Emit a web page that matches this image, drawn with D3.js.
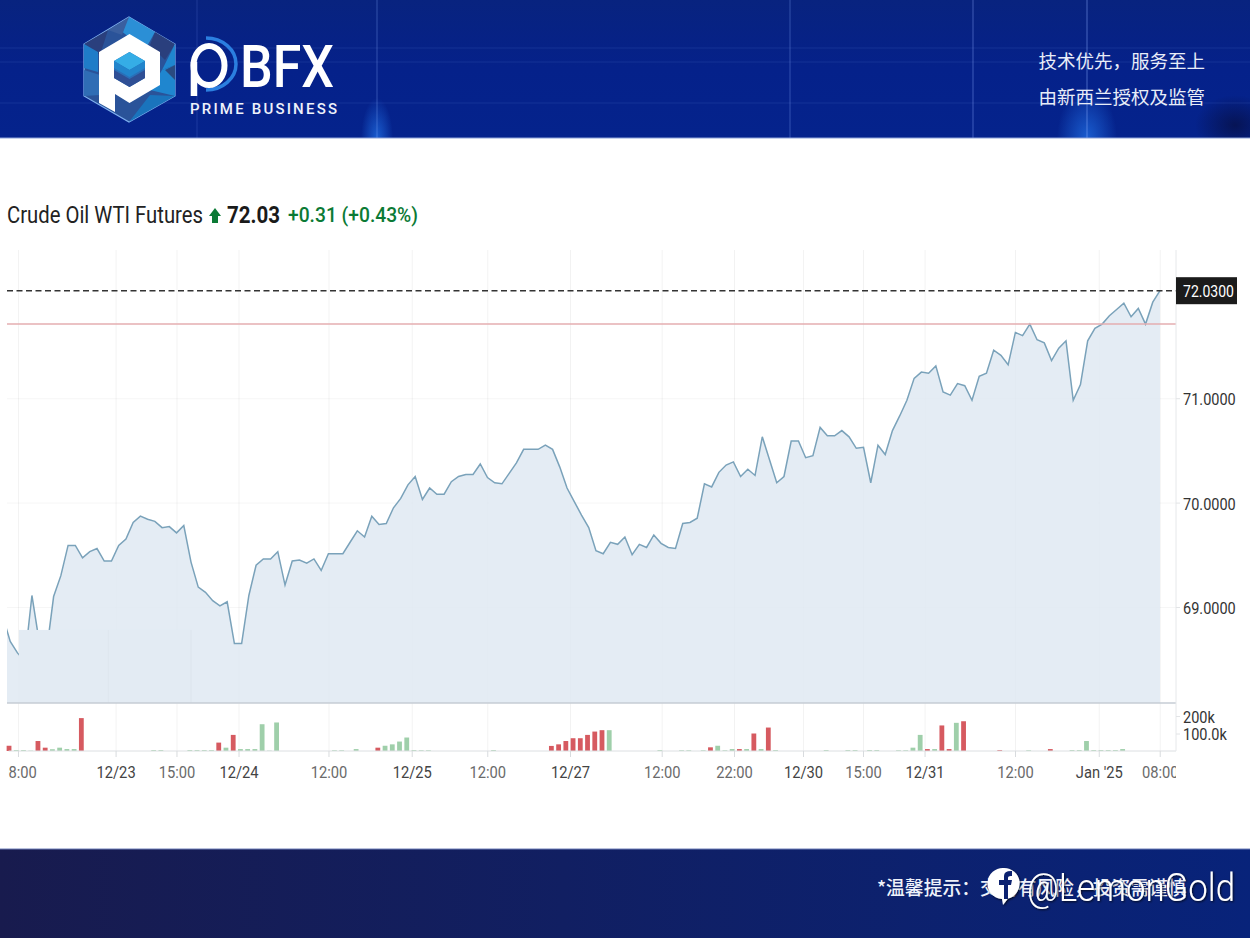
<!DOCTYPE html>
<html>
<head>
<meta charset="utf-8">
<script src="https://cdn.jsdelivr.net/npm/d3@7"></script>
<style>
  body { margin: 0; background: #fff; }
  svg { display: block; }
  text { font-family: Roboto, sans-serif; }
  .cjk { font-family: "Noto Sans CJK SC", sans-serif; }
</style>
</head>
<body>
<div id="my_dataviz"></div>
<script>
// Chart data
const prices = [
  68.90, 68.67, 68.56, 68.48, 69.11, 68.67, 68.56, 69.10, 69.30, 69.59,
  69.59, 69.47, 69.53, 69.56, 69.44, 69.44, 69.59, 69.65, 69.81, 69.87,
  69.84, 69.82, 69.76, 69.77, 69.71, 69.78, 69.43, 69.19, 69.14, 69.06,
  69.01, 69.05, 68.65, 68.65, 69.11, 69.40, 69.46, 69.46, 69.53, 69.21,
  69.44, 69.45, 69.42, 69.46, 69.35, 69.51, 69.51, 69.51, 69.62, 69.73,
  69.67, 69.87, 69.79, 69.80, 69.95, 70.04, 70.17, 70.25, 70.03, 70.14,
  70.08, 70.08, 70.20, 70.25, 70.27, 70.27, 70.37, 70.24, 70.19, 70.18,
  70.28, 70.38, 70.51, 70.51, 70.51, 70.55, 70.51, 70.34, 70.14, 70.01,
  69.88, 69.76, 69.54, 69.51, 69.62, 69.60, 69.67, 69.50, 69.60, 69.57,
  69.69, 69.61, 69.57, 69.56, 69.80, 69.81, 69.85, 70.18, 70.15, 70.29,
  70.36, 70.39, 70.25, 70.32, 70.26, 70.63, 70.41, 70.19, 70.25, 70.59,
  70.59, 70.43, 70.45, 70.72, 70.64, 70.64, 70.69, 70.63, 70.52, 70.53,
  70.19, 70.55, 70.46, 70.69, 70.83, 70.98, 71.19, 71.25, 71.24, 71.31,
  71.06, 71.03, 71.14, 71.12, 70.98, 71.21, 71.24, 71.46, 71.41, 71.32,
  71.63, 71.60, 71.71, 71.56, 71.53, 71.36, 71.48, 71.55, 70.98, 71.13,
  71.55, 71.67, 71.71, 71.79, 71.85, 71.91, 71.78, 71.86, 71.71, 71.92,
  72.03
];
const lastPrice = 72.03;
const prevClose = 71.71;
const priceTicks = [69, 70, 71];

// Volume bars, in thousands: slot on the time axis, size, and falling (1) or rising (0)
const volSlot = [1, 2, 3, 4, 5, 6, 7, 8, 9, 10, 11, 21, 22, 26, 27, 28, 29, 30, 31, 32, 33, 34, 35, 36, 37, 38,
  46, 47, 49, 52, 53, 54, 55, 56, 57, 58, 59, 68, 76, 77, 78, 79, 80, 81, 82, 83, 84, 91, 94, 95, 97, 98, 99,
  100, 101, 102, 103, 104, 105, 106, 107, 114, 117, 118, 120, 121, 124, 125, 126, 127, 128, 129, 130, 131, 132,
  133, 138, 142, 145, 148, 149, 150, 151, 152, 153, 154, 155];
const volK = [30, 5, 5, 2, 57, 19, 10, 19, 11, 11, 188, 5, 5, 5, 5, 5, 5, 48, 19, 92, 11, 11, 11, 153, 2, 163,
  4, 4, 11, 19, 30, 38, 54, 77, 5, 4, 4, 5, 29, 38, 57, 73, 73, 92, 111, 119, 119, 5, 4, 4, 4, 21, 30,
  4, 11, 11, 11, 100, 11, 134, 5, 5, 5, 5, 5, 5, 4, 4, 19, 92, 11, 11, 146, 11, 161,
  170, 5, 4, 11, 5, 5, 57, 5, 5, 5, 5, 11];
const volDown = [1, 0, 0, 0, 1, 1, 0, 0, 0, 0, 1, 0, 0, 0, 0, 0, 0, 1, 0, 1, 0, 0, 0, 0, 0, 0,
  0, 0, 0, 1, 0, 0, 0, 0, 0, 0, 0, 0, 1, 1, 1, 1, 1, 1, 1, 1, 0, 0, 0, 0, 0, 1, 0,
  0, 0, 1, 0, 1, 0, 1, 0, 0, 0, 0, 0, 0, 0, 0, 0, 0, 1, 0, 1, 1, 0,
  1, 1, 0, 1, 0, 0, 0, 0, 0, 0, 0, 0];
const volTicks = [100, 200];
const volTickLabels = ["100.0k", "200k"];

// Time axis labels and where they sit on the slot scale
const timeSlots = [2.07, 15.57, 23.99, 32.57, 45.01, 56.52, 66.97, 78.41, 91.09, 101.09, 110.63, 118.93, 127.44, 139.95, 151.53, 159.96];
const timeLabels = ["08:00", "12/23", "15:00", "12/24", "12:00", "12/25", "12:00", "12/27", "12:00", "22:00", "12/30", "15:00", "12/31", "12:00", "Jan '25", "08:00"];

const W = 1250, H = 938;
const plot = { left: 7, right: 1176, top: 250, bottom: 703, volBase: 751 };

const svg = d3.select("#my_dataviz")
  .append("svg")
  .attr("width", W)
  .attr("height", H)
  .attr("viewBox", `0 0 ${W} ${H}`);

const defs = svg.append("defs");

const headGrad = defs.append("linearGradient").attr("id", "headGrad").attr("x1", 0).attr("x2", 0).attr("y1", 0).attr("y2", 1);
headGrad.append("stop").attr("offset", "0").attr("stop-color", "#08237f");
headGrad.append("stop").attr("offset", "0.5").attr("stop-color", "#05218a");
headGrad.append("stop").attr("offset", "1").attr("stop-color", "#05238c");

const footGrad = defs.append("linearGradient").attr("id", "footGrad");
footGrad.append("stop").attr("offset", "0").attr("stop-color", "#181b4e");
footGrad.append("stop").attr("offset", "0.45").attr("stop-color", "#111f62");
footGrad.append("stop").attr("offset", "1").attr("stop-color", "#08237a");

const glow = defs.append("radialGradient").attr("id", "glow");
glow.append("stop").attr("offset", "0").attr("stop-color", "#1f6be0").attr("stop-opacity", 0.8);
glow.append("stop").attr("offset", "1").attr("stop-color", "#1f6be0").attr("stop-opacity", 0);

const shade = defs.append("radialGradient").attr("id", "shade");
shade.append("stop").attr("offset", "0").attr("stop-color", "#06124f").attr("stop-opacity", 0.9);
shade.append("stop").attr("offset", "1").attr("stop-color", "#06124f").attr("stop-opacity", 0);

defs.append("clipPath").attr("id", "headClip").append("rect")
  .attr("width", W).attr("height", 138);

defs.append("clipPath").attr("id", "plotClip").append("rect")
  .attr("x", plot.left).attr("y", 0)
  .attr("width", plot.right - plot.left).attr("height", H);

// Axis labels get cut a little further in, so only "8:00" shows of the first one
defs.append("clipPath").attr("id", "labelClip").append("rect")
  .attr("x", 8.6).attr("y", 0)
  .attr("width", plot.right - 8.6).attr("height", H);

defs.append("filter").attr("id", "wmShadow")
  .append("feDropShadow")
  .attr("dx", 1).attr("dy", 1).attr("stdDeviation", 1)
  .attr("flood-color", "#000").attr("flood-opacity", 0.75);

// Scales
const x = d3.scaleLinear().domain([0, prices.length - 1]).range([3, 1160]);
const y = d3.scaleLinear().domain([68.08, lastPrice]).range([plot.bottom, 290.7]);
const yVol = d3.scaleLinear().domain([0, 200]).range([plot.volBase, 716]);

// Squeeze a text to the width it has in the picture
function fit(sel, w) {
  return sel.attr("textLength", w).attr("lengthAdjust", "spacingAndGlyphs");
}

drawHeader();
drawFooterBand();

// Title line
fit(svg.append("text").attr("x", 7).attr("y", 223).attr("font-size", 23).attr("fill", "#222"), 196)
  .text("Crude Oil WTI Futures");
svg.append("path")
  .attr("d", "M215 208 L221 216 L218 216 L218 223 L212 223 L212 216 L209 216 Z")
  .attr("fill", "#0b7a35");
fit(svg.append("text").attr("x", 227).attr("y", 223).attr("font-size", 23).attr("font-weight", 700).attr("fill", "#1a1a1a"), 53)
  .text("72.03");
fit(svg.append("text").attr("x", 288).attr("y", 222).attr("font-size", 20).attr("font-weight", 500).attr("fill", "#0b7a35"), 130)
  .text("+0.31 (+0.43%)");

// Vertical grid and ticks
svg.append("g")
  .attr("transform", `translate(0,${plot.volBase})`)
  .call(d3.axisBottom(x).tickValues(timeSlots).tickSize(-(plot.volBase - plot.top)).tickFormat(""))
  .call(g => g.select(".domain").remove())
  .call(g => g.selectAll("line").attr("stroke", "#000").attr("stroke-opacity", 0.05));

// Horizontal grid
svg.append("g")
  .attr("transform", `translate(${plot.right},0)`)
  .call(d3.axisLeft(y).tickValues(priceTicks).tickSize(plot.right - plot.left).tickFormat(""))
  .call(g => g.select(".domain").remove())
  .call(g => g.selectAll("line").attr("stroke", "#000").attr("stroke-opacity", 0.04));

// Price area and line
const inPlot = svg.append("g").attr("clip-path", "url(#plotClip)");

inPlot.append("path")
  .datum(prices)
  .attr("d", d3.area().x((d, i) => x(i)).y0(plot.bottom).y1(d => y(d)))
  .attr("fill", "#dfe9f2")
  .attr("fill-opacity", 0.85);

inPlot.append("path")
  .datum(prices)
  .attr("d", d3.line().x((d, i) => x(i)).y(d => y(d)))
  .attr("fill", "none")
  .attr("stroke", "#7aa2ba")
  .attr("stroke-width", 1.5);

// Pasted light patch that hides the line near the left edge
inPlot.append("rect")
  .attr("x", x(2.2))
  .attr("y", y(68.78))
  .attr("width", x(26.1) - x(2.2))
  .attr("height", plot.bottom - y(68.78))
  .attr("fill", "#e3ebf3");
inPlot.selectAll(".patchLine")
  .data([14.55, 26])
  .join("line")
  .attr("x1", d => x(d)).attr("x2", d => x(d))
  .attr("y1", y(68.78)).attr("y2", plot.bottom)
  .attr("stroke", "#000").attr("stroke-opacity", 0.025);

// Reference lines
svg.append("line")
  .attr("x1", plot.left).attr("x2", plot.right)
  .attr("y1", y(prevClose)).attr("y2", y(prevClose))
  .attr("stroke", "#e5aeb1").attr("stroke-width", 1.5);
svg.append("line")
  .attr("x1", plot.left).attr("x2", plot.right)
  .attr("y1", y(lastPrice)).attr("y2", y(lastPrice))
  .attr("stroke", "#333").attr("stroke-width", 1.5)
  .attr("stroke-dasharray", "6 3.5");

// Separator between price and volume
svg.append("line")
  .attr("x1", plot.left).attr("x2", plot.right)
  .attr("y1", plot.bottom).attr("y2", plot.bottom)
  .attr("stroke", "#c6cdd5").attr("stroke-width", 1.6);

// Volume bars
svg.append("g")
  .selectAll("rect")
  .data(volSlot)
  .join("rect")
  .attr("x", d => x(d) - 3.6)
  .attr("width", 4.8)
  .attr("y", (d, i) => yVol(volK[i]))
  .attr("height", (d, i) => plot.volBase - yVol(volK[i]))
  .attr("fill", (d, i) => volDown[i] ? "#d65a60" : "#9fcfaa");

// Bottom axis
const xAxisG = svg.append("g")
  .attr("clip-path", "url(#labelClip)")
  .append("g")
  .attr("transform", `translate(0,${plot.volBase})`)
  .call(d3.axisBottom(x).tickValues(timeSlots).tickSize(6).tickPadding(10)
    .tickFormat((d, i) => timeLabels[i]));
xAxisG.select(".domain").attr("stroke", "#dcdfe2").attr("d", `M${plot.left},0H${plot.right}`);
xAxisG.selectAll("line").attr("stroke", "#d8dbde");
xAxisG.selectAll("text")
  .attr("font-size", 16)
  .attr("font-family", "Roboto")
  .attr("transform", "scale(0.92,1)")
  .attr("fill", (d, i) => /[/J]/.test(timeLabels[i]) ? "#444" : "#6a6a6a");

// Right axes
svg.append("line")
  .attr("x1", plot.right).attr("x2", plot.right)
  .attr("y1", plot.top).attr("y2", plot.volBase)
  .attr("stroke", "#e6e8ea");

function styleRight(g) {
  g.select(".domain").remove();
  g.selectAll("line").attr("stroke", "#e2e4e6");
  g.selectAll("text")
    .attr("font-size", 16.5)
    .attr("font-family", "Roboto")
    .attr("fill", "#333")
    .attr("transform", "scale(0.88,1)")
    .attr("x", 7 / 0.88)
    .attr("dy", "0.39em");
}

svg.append("g")
  .attr("transform", `translate(${plot.right},0)`)
  .call(d3.axisRight(y).tickValues(priceTicks).tickSize(4).tickFormat(d3.format(".4f")))
  .call(styleRight);

svg.append("g")
  .attr("transform", `translate(${plot.right},0)`)
  .call(d3.axisRight(yVol).tickValues(volTicks).tickSize(4).tickFormat((d, i) => volTickLabels[i]))
  .call(styleRight);

// Last price box
svg.append("rect")
  .attr("x", plot.right).attr("y", y(lastPrice) - 13.5)
  .attr("width", 61).attr("height", 27)
  .attr("fill", "#1b1b1b");
fit(svg.append("text")
  .attr("x", 1183).attr("y", y(lastPrice) + 6)
  .attr("font-size", 16.5).attr("fill", "#fff"), 51)
  .text(d3.format(".4f")(lastPrice));

drawFooterText();

function drawHeader() {
  const head = svg.append("g");
  head.append("rect").attr("width", W).attr("height", 138).attr("fill", "url(#headGrad)");

  const soft = head.append("g").attr("clip-path", "url(#headClip)");
  soft.append("ellipse").attr("cx", 1087).attr("cy", 138).attr("rx", 30).attr("ry", 50).attr("fill", "url(#glow)");
  soft.append("ellipse").attr("cx", 377).attr("cy", 138).attr("rx", 16).attr("ry", 40).attr("fill", "url(#glow)");
  soft.append("ellipse").attr("cx", 1235).attr("cy", 125).attr("rx", 40).attr("ry", 30).attr("fill", "url(#shade)");

  [[197, 0.12], [377, 0.22], [790, 0.22], [973, 0.28], [1087, 0.32]].forEach(v => {
    head.append("line").attr("x1", v[0]).attr("x2", v[0]).attr("y1", 0).attr("y2", 138)
      .attr("stroke", "#8fb0ff").attr("stroke-width", 1.5).attr("stroke-opacity", v[1]);
  });
  [48, 62, 103].forEach(v => {
    head.append("line").attr("x1", 0).attr("x2", W).attr("y1", v).attr("y2", v)
      .attr("stroke", "#8fb0ff").attr("stroke-width", 1.2).attr("stroke-opacity", 0.12);
  });
  head.append("line").attr("x1", 0).attr("x2", W).attr("y1", 138).attr("y2", 138).attr("stroke", "#8ea3d8");

  // Logo
  const logo = head.append("g");
  logo.append("path")
    .attr("d", "M129 17 L175 44 L175 96 L129 122 L84 96 L84 44 Z")
    .attr("fill", "#2a5399").attr("stroke", "#7fb0ee").attr("stroke-width", 1.2);
  const facets = [
    ["M129 17 L155 32 L145 50 L120 30 Z", "#2b8fd6"],
    ["M155 32 L175 44 L165 60 L150 45 Z", "#2a3f7d"],
    ["M175 44 L175 65 L162 70 Z", "#1f86cf"],
    ["M175 65 L175 96 L150 90 L162 70 Z", "#1f86cf"],
    ["M175 65 L165 70 L175 80 Z", "#2a4a80"],
    ["M150 95 L175 96 L129 122 Z", "#1a74bd"],
    ["M84 44 L108 30 L100 55 Z", "#2a3f7d"],
    ["M84 70 L100 75 L100 95 L84 96 Z", "#2f6db5"],
    ["M84 44 L98 52 L98 72 L84 68 Z", "#1f7cc8"],
    ["M108 30 L129 17 L122 35 Z", "#3a5f9f"]
  ];
  facets.forEach(f => logo.append("path").attr("d", f[0]).attr("fill", f[1]));
  logo.append("path")
    .attr("d", "M129.5 34 L160 52 L160 85 L129.5 103 L115 94 L115 112 L99 103 L99 52 Z")
    .attr("fill", "#fff");
  logo.append("path").attr("d", "M129.5 52 L145 61 L145 78 L129.5 87 L114 78 L114 61 Z").attr("fill", "#2a6fb8");
  logo.append("path").attr("d", "M129.5 52 L145 61 L129.5 70 L114 61 Z").attr("fill", "#35ade6");
  logo.append("path").attr("d", "M114 61 L129.5 70 L145 61 L145 68 L129.5 77 L114 68 Z").attr("fill", "#2285cc");
  logo.append("path").attr("d", "M114 70 L129.5 79 L145 70 L145 78 L129.5 87 L114 78 Z").attr("fill", "#2f4f95");

  // Wordmark: round "p" with blue arc, then the letters
  logo.append("path")
    .attr("d", "M206 38 A 30 26 0 0 1 206 90")
    .attr("fill", "none").attr("stroke", "#2b7fe0").attr("stroke-width", 3.5);
  logo.append("ellipse").attr("cx", 209).attr("cy", 65.5).attr("rx", 15.5).attr("ry", 19.5)
    .attr("fill", "none").attr("stroke", "#fff").attr("stroke-width", 6);
  logo.append("rect").attr("x", 190.7).attr("y", 62).attr("width", 6.5).attr("height", 34).attr("fill", "#fff");
  fit(head.append("text").attr("x", 240).attr("y", 87).attr("font-size", 60).attr("font-family", "Roboto").attr("font-weight", 500).attr("fill", "#fff"), 94)
    .text("BFX");
  head.append("text").attr("x", 190).attr("y", 113.5).attr("font-size", 15)
    .attr("font-weight", 500).attr("fill", "#eef2fb")
    .attr("textLength", 147).attr("lengthAdjust", "spacing")
    .text("PRIME BUSINESS");

  head.append("text").attr("class", "cjk").attr("x", 1205).attr("y", 67.5).attr("text-anchor", "end")
    .attr("font-size", 18.5).attr("fill", "#e8edf8").text("技术优先，服务至上");
  head.append("text").attr("class", "cjk").attr("x", 1205).attr("y", 103.5).attr("text-anchor", "end")
    .attr("font-size", 18.5).attr("fill", "#e8edf8").text("由新西兰授权及监管");
}

function drawFooterBand() {
  svg.append("rect").attr("y", 849).attr("width", W).attr("height", H - 849).attr("fill", "url(#footGrad)");
  svg.append("line").attr("x1", 0).attr("x2", W).attr("y1", 849).attr("y2", 849).attr("stroke", "#6f7fb8");
}

function drawFooterText() {
  svg.append("text").attr("class", "cjk").attr("x", 877).attr("y", 894.5)
    .attr("font-size", 18.8).attr("font-weight", 500).attr("fill", "#eef1fa").text("*温馨提示：交易有风险，投资需谨慎");

  // Watermark over the footer
  const wm = svg.append("g").attr("filter", "url(#wmShadow)");
  wm.append("path")
    .attr("d", "M1004 868 A 15.5 15.5 0 0 1 1008 898.5 L1003 905 L1002 899 A 15.5 15.5 0 0 1 1004 868 Z")
    .attr("fill", "#fff");
  wm.append("path")
    .attr("d", "M1004 899 L1004 885 L999 885 L999 880 L1004 880 L1004 876 Q1004 871 1011 871 L1012 871 L1012 876 Q1008 875.5 1008 878 L1008 880 L1012 880 L1011 885 L1008 885 L1008 899 Z")
    .attr("fill", "#0d2470");
  fit(wm.append("text").attr("x", 1027).attr("y", 901)
    .attr("font-size", 39).attr("font-family", "Lato").attr("font-weight", 300).attr("fill", "#fff"), 208)
    .text("@LemonGold");
}
</script>
</body>
</html>
